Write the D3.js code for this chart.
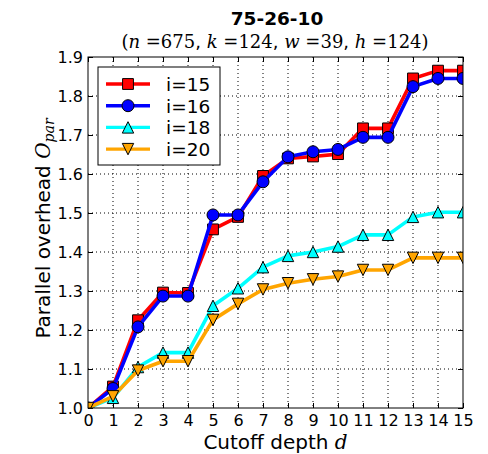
<!DOCTYPE html>
<html>
<head>
<meta charset="utf-8">
<script src="https://cdn.jsdelivr.net/npm/d3@7"></script>
<style>
  html, body { margin: 0; padding: 0; background: #fff; }
  svg { display: block; }
  text { font-family: "DejaVu Sans", sans-serif; fill: #000; }
</style>
</head>
<body>
<svg id="chart" width="488" height="454"></svg>
<script>
// Cutoff depths on the x axis
const depths = [0, 1, 2, 3, 4, 5, 6, 7, 8, 9, 10, 11, 12, 13, 14, 15];

// Parallel overhead per cutoff depth, one list per i
const overheadI15 = [1.000, 1.055, 1.225, 1.296, 1.295, 1.458, 1.490, 1.595, 1.640, 1.645, 1.651, 1.717, 1.717, 1.845, 1.865, 1.865];
const overheadI16 = [1.000, 1.050, 1.208, 1.287, 1.287, 1.495, 1.495, 1.580, 1.644, 1.657, 1.663, 1.694, 1.694, 1.824, 1.845, 1.845];
const overheadI18 = [1.000, 1.026, 1.105, 1.142, 1.142, 1.262, 1.307, 1.361, 1.390, 1.400, 1.414, 1.444, 1.444, 1.490, 1.502, 1.502];
const overheadI20 = [1.000, 1.030, 1.096, 1.120, 1.120, 1.226, 1.267, 1.304, 1.320, 1.330, 1.337, 1.354, 1.354, 1.385, 1.385, 1.385];

const seriesLabels = ["i=15", "i=16", "i=18", "i=20"];
const seriesColors = ["#ff0000", "#0000ff", "#00ffff", "#ffa500"];
const seriesMarkers = ["square", "circle", "triangleUp", "triangleDown"];
const seriesValues = [overheadI15, overheadI16, overheadI18, overheadI20];

const xTicks = depths;
const yTicks = [1.0, 1.1, 1.2, 1.3, 1.4, 1.5, 1.6, 1.7, 1.8, 1.9];

const svg = d3.select("#chart");
const margin = { left: 88, right: 25, top: 57, bottom: 46 };
const W = 488, H = 454;
const plotW = W - margin.left - margin.right;
const plotH = H - margin.top - margin.bottom;

const x = d3.scaleLinear().domain([0, 15]).range([margin.left, margin.left + plotW]);
const y = d3.scaleLinear().domain([1.0, 1.9]).range([margin.top + plotH, margin.top]);

// Title
svg.append("text")
  .attr("x", 277).attr("y", 25)
  .attr("text-anchor", "middle")
  .style("font-size", "18.5px").style("font-weight", "bold")
  .text("75-26-10");

const sub = svg.append("text")
  .attr("x", 275).attr("y", 48)
  .attr("text-anchor", "middle")
  .style("font-size", "18px");
const subParts = [
  ["(", "serif", "normal"], ["n", "serif", "italic"], [" =675", "serif", "normal"], [", ", "sans", "normal"],
  ["k", "serif", "italic"], [" =124", "serif", "normal"], [", ", "sans", "normal"],
  ["w", "serif", "italic"], [" =39", "serif", "normal"], [", ", "sans", "normal"],
  ["h", "serif", "italic"], [" =124)", "serif", "normal"]
];
subParts.forEach(([t, fam, st]) => {
  sub.append("tspan")
    .style("font-family", fam === "serif" ? "'DejaVu Serif', serif" : "'DejaVu Sans', sans-serif")
    .style("font-style", st)
    .text(t);
});

// Grid
const grid = svg.append("g");
grid.selectAll("line.gx").data(xTicks.slice(1, -1)).enter().append("line")
  .attr("x1", d => x(d)).attr("x2", d => x(d))
  .attr("y1", margin.top).attr("y2", margin.top + plotH)
  .attr("stroke", "#000").attr("stroke-width", 1).attr("stroke-dasharray", "1,3");
grid.selectAll("line.gy").data(yTicks.slice(1, -1)).enter().append("line")
  .attr("y1", d => y(d)).attr("y2", d => y(d))
  .attr("x1", margin.left).attr("x2", margin.left + plotW)
  .attr("stroke", "#000").attr("stroke-width", 1).attr("stroke-dasharray", "1,3");

// Axes with inward ticks on all four sides
const tickLen = 5;
const xAxis = d3.axisBottom(x).tickValues(xTicks).tickFormat(d3.format("d")).tickSizeInner(-tickLen).tickSizeOuter(0).tickPadding(7);
const yAxis = d3.axisLeft(y).tickValues(yTicks).tickFormat(d3.format(".1f")).tickSizeInner(-tickLen).tickSizeOuter(0).tickPadding(5);
const gx = svg.append("g").attr("transform", `translate(0,${margin.top + plotH})`).call(xAxis);
const gy = svg.append("g").attr("transform", `translate(${margin.left},0)`).call(yAxis);
const gxTop = svg.append("g").attr("transform", `translate(0,${margin.top})`)
  .call(d3.axisTop(x).tickValues(xTicks).tickSizeInner(-tickLen).tickSizeOuter(0).tickFormat(""));
const gyRight = svg.append("g").attr("transform", `translate(${margin.left + plotW},0)`)
  .call(d3.axisRight(y).tickValues(yTicks).tickSizeInner(-tickLen).tickSizeOuter(0).tickFormat(""));
[gx, gy, gxTop, gyRight].forEach(g => {
  g.select(".domain").remove();
  g.selectAll(".tick line").attr("stroke", "#000");
  g.selectAll(".tick text").style("font-size", "16px").style("font-family", "'DejaVu Sans', sans-serif").attr("fill", "#000");
});

// Series lines and markers
const line = d3.line().x((d, i) => x(depths[i])).y(d => y(d));
const mk = 5.7; // half-extent of the markers
const markerPath = {
  square: `M${-mk * 0.95},${-mk * 0.95}H${mk * 0.95}V${mk * 0.95}H${-mk * 0.95}Z`,
  circle: d3.symbol().type(d3.symbolCircle).size(Math.PI * 6 * 6)(),
  triangleUp: `M0,${-mk}L${mk},${mk}L${-mk},${mk}Z`,
  triangleDown: `M0,${mk}L${mk},${-mk}L${-mk},${-mk}Z`
};
function drawMarker(g, kind, cx, cy, color) {
  g.append("path")
    .attr("d", markerPath[kind])
    .attr("transform", `translate(${cx},${cy})`)
    .attr("fill", color).attr("stroke", "#000").attr("stroke-width", 1);
}

svg.append("clipPath").attr("id", "plotclip").append("rect")
  .attr("x", margin.left).attr("y", margin.top).attr("width", plotW).attr("height", plotH);
const plotG = svg.append("g").attr("clip-path", "url(#plotclip)");

seriesValues.forEach((vals, s) => {
  const g = plotG.append("g");
  g.append("path").datum(vals).attr("d", line)
    .attr("fill", "none").attr("stroke", seriesColors[s]).attr("stroke-width", 3.6)
    .attr("stroke-linejoin", "round");
  vals.forEach((v, i) => drawMarker(g, seriesMarkers[s], x(depths[i]), y(v), seriesColors[s]));
});

// Frame
svg.append("rect").attr("x", margin.left).attr("y", margin.top)
  .attr("width", plotW).attr("height", plotH)
  .attr("fill", "none").attr("stroke", "#000").attr("stroke-width", 1);

// Legend
const lg = svg.append("g");
lg.append("rect").attr("x", 98).attr("y", 67).attr("width", 122).attr("height", 98)
  .attr("fill", "#fff").attr("stroke", "#000").attr("stroke-width", 1);
seriesLabels.forEach((lab, s) => {
  const ly = 84 + s * 21.7;
  lg.append("line").attr("x1", 106).attr("x2", 150).attr("y1", ly).attr("y2", ly)
    .attr("stroke", seriesColors[s]).attr("stroke-width", 3.4);
  drawMarker(lg, seriesMarkers[s], 128, ly, seriesColors[s]);
  lg.append("text").attr("x", 166).attr("y", ly + 7)
    .style("font-size", "18.5px").text(lab);
});

// Axis labels
svg.append("text").attr("x", margin.left + plotW / 2).attr("y", 449)
  .attr("text-anchor", "middle").style("font-size", "20px")
  .call(t => {
    t.append("tspan").text("Cutoff depth ");
    t.append("tspan").style("font-family", "'DejaVu Serif', serif").style("font-style", "italic").text("d");
  });

svg.append("text")
  .attr("transform", `translate(50,${margin.top + plotH / 2 - 4}) rotate(-90)`)
  .attr("text-anchor", "middle").style("font-size", "20px")
  .call(t => {
    t.append("tspan").text("Parallel overhead ");
    t.append("tspan").style("font-family", "'DejaVu Serif', serif").style("font-style", "italic").text("O");
    t.append("tspan").style("font-family", "'DejaVu Serif', serif").style("font-style", "italic")
      .style("font-size", "14px").attr("dy", 4).text("par");
  });
</script>
</body>
</html>
